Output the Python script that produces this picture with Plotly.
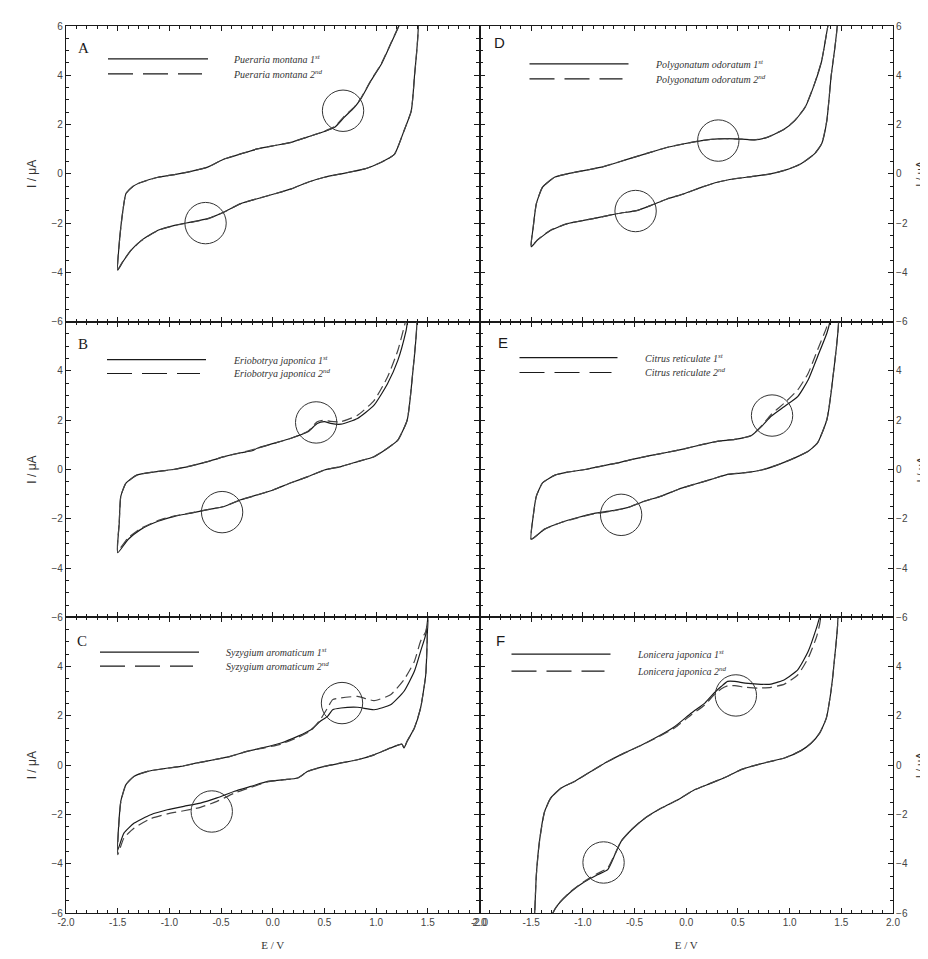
import plotly.graph_objects as go
from plotly.subplots import make_subplots

# ---------------- data ----------------
panel_letters = ["A", "D", "B", "E", "C", "F"]
species = ["Pueraria montana", "Polygonatum odoratum", "Eriobotrya japonica",
           "Citrus reticulate", "Syzygium aromaticum", "Lonicera japonica"]
cycle_labels = ["1<sup>st</sup>", "2<sup>nd</sup>"]

# Panel A
A_E_up = [-1.50, -1.48, -1.45, -1.42, -1.35, -1.27, -1.11, -0.95, -0.79, -0.63, -0.47, -0.31, -0.15, 0.02, 0.18, 0.34, 0.50, 0.60, 0.69, 0.79, 0.85, 0.95, 1.05, 1.14, 1.22, 1.26]
A_I_up1 = [-3.91, -2.60, -1.50, -0.80, -0.50, -0.34, -0.14, -0.03, 0.10, 0.27, 0.60, 0.81, 1.01, 1.15, 1.28, 1.50, 1.72, 1.89, 2.29, 2.70, 3.03, 3.78, 4.45, 5.26, 6.00, 6.50]
A_I_up2 = [-3.88, -2.58, -1.50, -0.80, -0.50, -0.34, -0.14, -0.03, 0.10, 0.27, 0.60, 0.81, 1.01, 1.15, 1.28, 1.50, 1.73, 1.92, 2.33, 2.72, 3.05, 3.80, 4.47, 5.28, 6.02, 6.50]
A_E_down = [1.40, 1.37, 1.34, 1.27, 1.21, 1.18, 1.15, 1.05, 0.89, 0.66, 0.50, 0.34, 0.18, 0.02, -0.15, -0.31, -0.47, -0.63, -0.79, -0.95, -1.11, -1.27, -1.37, -1.45, -1.50]
A_I_down1 = [6.50, 3.91, 2.56, 1.75, 1.08, 0.81, 0.70, 0.47, 0.20, 0.00, -0.14, -0.34, -0.61, -0.81, -1.01, -1.21, -1.55, -1.82, -1.96, -2.09, -2.29, -2.70, -3.10, -3.57, -3.91]
A_I_down2 = [6.50, 3.91, 2.56, 1.75, 1.08, 0.81, 0.70, 0.47, 0.20, 0.00, -0.14, -0.34, -0.61, -0.81, -1.01, -1.21, -1.55, -1.83, -1.97, -2.10, -2.30, -2.71, -3.10, -3.55, -3.88]

# Panel B
B_E_up = [-1.50, -1.485, -1.47, -1.42, -1.31, -1.11, -0.95, -0.79, -0.63, -0.47, -0.31, -0.20, -0.15, 0.01, 0.17, 0.34, 0.43, 0.50, 0.56, 0.66, 0.82, 0.98, 1.11, 1.21, 1.29, 1.32]
B_I_up1 = [-3.38, -2.17, -1.09, -0.55, -0.22, -0.08, 0.01, 0.15, 0.32, 0.52, 0.68, 0.76, 0.86, 1.06, 1.26, 1.53, 1.87, 1.94, 1.87, 1.84, 2.07, 2.61, 3.48, 4.43, 5.64, 6.30]
B_I_up2 = [-3.30, -2.15, -1.09, -0.55, -0.22, -0.08, 0.01, 0.15, 0.32, 0.52, 0.68, 0.80, 0.86, 1.06, 1.26, 1.55, 1.94, 2.00, 1.95, 1.94, 2.20, 2.80, 3.75, 4.83, 6.10, 6.60]
B_E_down = [1.39, 1.35, 1.30, 1.21, 1.11, 0.98, 0.82, 0.66, 0.50, 0.34, 0.17, 0.01, -0.15, -0.31, -0.47, -0.63, -0.79, -0.95, -1.11, -1.28, -1.40, -1.50]
B_I_down1 = [6.30, 3.75, 2.00, 1.19, 0.86, 0.52, 0.32, 0.12, -0.02, -0.29, -0.55, -0.82, -1.03, -1.23, -1.50, -1.63, -1.77, -1.90, -2.10, -2.44, -2.84, -3.38]
B_I_down2 = [6.30, 3.75, 2.00, 1.19, 0.86, 0.52, 0.32, 0.12, -0.02, -0.29, -0.55, -0.82, -1.03, -1.23, -1.50, -1.63, -1.76, -1.88, -2.07, -2.40, -2.78, -3.30]

# Panel C
C_E_up = [-1.50, -1.49, -1.47, -1.42, -1.34, -1.21, -1.05, -0.89, -0.73, -0.57, -0.41, -0.25, -0.08, 0.08, 0.24, 0.37, 0.46, 0.53, 0.58, 0.66, 0.82, 0.98, 1.14, 1.27, 1.37, 1.43, 1.48, 1.50]
C_I_up1 = [-3.45, -2.42, -1.47, -0.79, -0.45, -0.25, -0.14, -0.05, 0.09, 0.22, 0.36, 0.56, 0.72, 0.90, 1.17, 1.44, 1.78, 1.98, 2.25, 2.32, 2.35, 2.25, 2.45, 3.00, 3.81, 4.62, 5.30, 5.97]
C_I_up2 = [-3.63, -2.50, -1.50, -0.79, -0.45, -0.25, -0.14, -0.05, 0.09, 0.22, 0.36, 0.56, 0.70, 0.86, 1.12, 1.40, 1.85, 2.32, 2.66, 2.73, 2.79, 2.62, 2.86, 3.47, 4.21, 5.03, 5.43, 5.90]
C_E_down = [1.50, 1.48, 1.43, 1.37, 1.30, 1.27, 1.25, 1.14, 0.98, 0.82, 0.66, 0.50, 0.34, 0.24, 0.11, -0.05, -0.21, -0.37, -0.54, -0.70, -0.86, -1.02, -1.18, -1.34, -1.44, -1.50]
C_I_down1 = [5.97, 3.67, 2.32, 1.51, 0.97, 0.70, 0.85, 0.70, 0.42, 0.22, 0.09, -0.05, -0.25, -0.52, -0.59, -0.66, -0.86, -1.06, -1.33, -1.54, -1.67, -1.81, -2.01, -2.35, -2.76, -3.45]
C_I_down2 = [5.90, 3.67, 2.32, 1.51, 0.97, 0.70, 0.85, 0.70, 0.42, 0.22, 0.09, -0.05, -0.25, -0.52, -0.59, -0.68, -0.90, -1.13, -1.47, -1.71, -1.85, -1.98, -2.17, -2.55, -2.96, -3.63]

# Panel D
D_E_up = [-1.50, -1.48, -1.45, -1.39, -1.27, -1.15, -0.98, -0.82, -0.66, -0.50, -0.34, -0.18, -0.02, 0.15, 0.31, 0.47, 0.66, 0.79, 0.95, 1.05, 1.15, 1.24, 1.31, 1.37, 1.39]
D_I_up1 = [-2.96, -2.15, -1.21, -0.54, -0.13, 0.00, 0.14, 0.27, 0.47, 0.68, 0.88, 1.08, 1.22, 1.35, 1.42, 1.42, 1.38, 1.49, 1.82, 2.16, 2.70, 3.64, 4.58, 6.00, 6.40]
D_I_up2 = [-2.94, -2.14, -1.21, -0.54, -0.13, 0.00, 0.14, 0.27, 0.47, 0.68, 0.88, 1.08, 1.22, 1.35, 1.42, 1.42, 1.38, 1.49, 1.82, 2.17, 2.71, 3.65, 4.60, 6.00, 6.40]
D_E_down = [1.46, 1.40, 1.36, 1.31, 1.24, 1.11, 0.95, 0.79, 0.63, 0.47, 0.31, 0.15, -0.02, -0.18, -0.34, -0.47, -0.66, -0.82, -0.98, -1.15, -1.31, -1.44, -1.50]
D_I_down1 = [6.40, 3.91, 2.16, 1.22, 0.81, 0.41, 0.14, -0.02, -0.11, -0.20, -0.33, -0.54, -0.81, -1.01, -1.28, -1.48, -1.61, -1.75, -1.88, -2.02, -2.29, -2.69, -2.96]
D_I_down2 = [6.40, 3.91, 2.16, 1.22, 0.81, 0.41, 0.14, -0.02, -0.11, -0.20, -0.33, -0.54, -0.81, -1.01, -1.28, -1.48, -1.61, -1.75, -1.88, -2.02, -2.28, -2.68, -2.94]

# Panel E
E_E_up = [-1.50, -1.48, -1.45, -1.39, -1.27, -1.15, -0.98, -0.82, -0.66, -0.50, -0.34, -0.18, -0.02, 0.15, 0.31, 0.47, 0.63, 0.73, 0.82, 0.95, 1.08, 1.18, 1.27, 1.36, 1.39, 1.40]
E_I_up1 = [-2.83, -1.88, -1.08, -0.54, -0.23, -0.11, 0.00, 0.14, 0.27, 0.43, 0.57, 0.70, 0.84, 1.01, 1.15, 1.22, 1.38, 1.75, 2.16, 2.56, 2.97, 3.64, 4.58, 5.53, 6.00, 6.30]
E_I_up2 = [-2.83, -1.88, -1.08, -0.54, -0.23, -0.11, 0.00, 0.14, 0.27, 0.43, 0.57, 0.70, 0.84, 1.01, 1.15, 1.22, 1.38, 1.78, 2.23, 2.70, 3.24, 3.91, 4.85, 5.80, 6.30, 6.50]
E_E_down = [1.47, 1.42, 1.36, 1.27, 1.18, 1.05, 0.89, 0.73, 0.57, 0.40, 0.24, 0.08, -0.08, -0.24, -0.40, -0.57, -0.73, -0.89, -1.05, -1.21, -1.37, -1.50]
E_I_down1 = [6.30, 3.78, 2.02, 1.08, 0.74, 0.47, 0.20, -0.02, -0.13, -0.20, -0.40, -0.60, -0.81, -1.08, -1.28, -1.55, -1.68, -1.78, -1.95, -2.15, -2.42, -2.83]
E_I_down2 = [6.30, 3.78, 2.02, 1.08, 0.74, 0.47, 0.20, -0.02, -0.13, -0.20, -0.40, -0.60, -0.81, -1.08, -1.28, -1.55, -1.70, -1.80, -1.96, -2.15, -2.42, -2.83]

# Panel F
F_E_up = [-1.47, -1.45, -1.42, -1.37, -1.31, -1.21, -1.08, -0.92, -0.76, -0.60, -0.44, -0.27, -0.11, 0.05, 0.18, 0.27, 0.34, 0.40, 0.47, 0.57, 0.69, 0.82, 0.95, 1.08, 1.18, 1.26, 1.29, 1.31]
F_I_up1 = [-6.50, -4.45, -3.09, -1.88, -1.33, -0.93, -0.66, -0.25, 0.15, 0.49, 0.80, 1.17, 1.57, 2.12, 2.52, 2.93, 3.20, 3.40, 3.40, 3.33, 3.29, 3.29, 3.47, 3.88, 4.62, 5.57, 6.00, 6.30]
F_I_up2 = [-6.50, -4.45, -3.09, -1.88, -1.33, -0.93, -0.66, -0.25, 0.15, 0.49, 0.80, 1.15, 1.52, 2.05, 2.45, 2.86, 3.10, 3.22, 3.23, 3.16, 3.13, 3.16, 3.29, 3.67, 4.35, 5.20, 5.70, 6.10]
F_E_down = [1.46, 1.435, 1.40, 1.355, 1.29, 1.21, 1.11, 0.95, 0.79, 0.63, 0.53, 0.40, 0.24, 0.08, -0.08, -0.24, -0.40, -0.53, -0.63, -0.69, -0.76, -0.86, -0.98, -1.11, -1.24, -1.29, -1.31]
F_I_down1 = [6.30, 4.35, 3.00, 1.91, 1.30, 0.90, 0.59, 0.29, 0.13, -0.05, -0.18, -0.45, -0.73, -1.00, -1.40, -1.74, -2.15, -2.62, -3.09, -3.63, -4.24, -4.45, -4.72, -5.12, -5.66, -6.00, -6.30]
F_I_down2 = [6.30, 4.35, 3.00, 1.91, 1.30, 0.90, 0.59, 0.29, 0.13, -0.05, -0.18, -0.45, -0.73, -1.00, -1.40, -1.74, -2.15, -2.62, -3.09, -3.60, -4.18, -4.40, -4.70, -5.10, -5.64, -6.00, -6.30]

# highlighted regions (circle centres, E / V and I / uA), per panel in order A, D, B, E, C, F
circle_E = [[0.68, -0.65], [0.31, -0.49], [0.42, -0.49], [0.83, -0.63], [0.67, -0.59], [0.48, -0.80]]
circle_I = [[2.56, -2.00], [1.35, -1.51], [1.91, -1.73], [2.19, -1.84], [2.52, -1.88], [2.83, -3.95]]

x_ticks = [-2.0, -1.5, -1.0, -0.5, 0.0, 0.5, 1.0, 1.5, 2.0]
y_ticks_top = [-6, -4, -2, 0, 2, 4, 6]
y_ticks_low = [-6, -4, -2, 0, 2, 4]

panels = [
    (A_E_up, A_I_up1, A_I_up2, A_E_down, A_I_down1, A_I_down2),
    (D_E_up, D_I_up1, D_I_up2, D_E_down, D_I_down1, D_I_down2),
    (B_E_up, B_I_up1, B_I_up2, B_E_down, B_I_down1, B_I_down2),
    (E_E_up, E_I_up1, E_I_up2, E_E_down, E_I_down1, E_I_down2),
    (C_E_up, C_I_up1, C_I_up2, C_E_down, C_I_down1, C_I_down2),
    (F_E_up, F_I_up1, F_I_up2, F_E_down, F_I_down1, F_I_down2),
]

# ---------------- figure ----------------
W, H = 928, 959
ML, MR, MT, MB = 58, 43, 15, 54
fig = make_subplots(rows=3, cols=2, horizontal_spacing=0, vertical_spacing=0)

SANS = "Liberation Sans, Arial, sans-serif"
SERIF = "Liberation Serif, Times New Roman, serif"
INK = "#1a1a1a"

pw = (W - ML - MR) / 2.0
ph = (H - MT - MB) / 3.0

# legend/letter offsets in px relative to each panel's top-left corner (layout only)
leg_geo = [
    dict(lx0=42, lx1=142, ly1=33, ly2=48, tx=165, ax=17, ay=22, lf=SERIF),
    dict(lx0=50, lx1=149, ly1=38, ly2=53, tx=173, ax=20, ay=17, lf=SANS),
    dict(lx0=41, lx1=140, ly1=38, ly2=52, tx=165, ax=17, ay=22, lf=SERIF),
    dict(lx0=40, lx1=138, ly1=36, ly2=51, tx=163, ax=23, ay=21, lf=SANS),
    dict(lx0=34, lx1=133, ly1=35, ly2=49, tx=158, ax=16, ay=24, lf=SERIF),
    dict(lx0=32, lx1=131, ly1=37, ly2=54, tx=155, ax=21, ay=23, lf=SANS),
]

for k, (Eu, Iu1, Iu2, Ed, Id1, Id2) in enumerate(panels):
    row, col = k // 2 + 1, k % 2 + 1
    fig.add_trace(go.Scatter(x=Eu + Ed, y=Iu1 + Id1, mode="lines",
                             line=dict(color=INK, width=1.2, shape="spline", smoothing=0.5),
                             name=f"{species[k]} 1st", showlegend=False), row=row, col=col)
    fig.add_trace(go.Scatter(x=Eu + Ed, y=Iu2 + Id2, mode="lines",
                             line=dict(color="#444444", width=1.2, dash="10px,5px", shape="spline", smoothing=0.5),
                             name=f"{species[k]} 2nd", showlegend=False), row=row, col=col)

    idx = "" if k == 0 else str(k + 1)
    xr, yr = "x" + idx, "y" + idx
    # circles
    for cx, cy in zip(circle_E[k], circle_I[k]):
        fig.add_shape(type="circle", xref=xr, yref=yr, x0=cx - 0.2, x1=cx + 0.2,
                      y0=cy - 0.84, y1=cy + 0.84, line=dict(color="#333333", width=1))
    # manual legend
    g = leg_geo[k]
    def fx(px):
        return px / pw
    def fy(py):
        return 1 - py / ph
    fig.add_shape(type="line", xref=xr + " domain", yref=yr + " domain",
                  x0=fx(g["lx0"]), x1=fx(g["lx1"]), y0=fy(g["ly1"]), y1=fy(g["ly1"]),
                  line=dict(color=INK, width=1.2))
    fig.add_shape(type="line", xref=xr + " domain", yref=yr + " domain",
                  x0=fx(g["lx0"]), x1=fx(g["lx1"] - 6), y0=fy(g["ly2"]), y1=fy(g["ly2"]),
                  line=dict(color=INK, width=1.2, dash="25px,10px"))
    for yy, lab in zip([g["ly1"], g["ly2"]], cycle_labels):
        fig.add_annotation(xref=xr + " domain", yref=yr + " domain", x=fx(g["tx"]), y=fy(yy),
                           text=f"<i>{species[k]} {lab}</i>", showarrow=False,
                           xanchor="left", yanchor="middle",
                           font=dict(family=SERIF, size=10, color="#333333"))
    fig.add_annotation(xref=xr + " domain", yref=yr + " domain", x=fx(g["ax"]), y=fy(g["ay"]),
                       text=panel_letters[k], showarrow=False, xanchor="center", yanchor="middle",
                       font=dict(family=g["lf"], size=15, color=INK))

    # axes
    fig.update_xaxes(row=row, col=col, range=[-2, 2], tickvals=x_ticks,
                     ticktext=[f"{v:.1f}" for v in x_ticks],
                     showticklabels=(row == 3), ticks="inside", ticklen=5, tickwidth=1,
                     tickcolor=INK, showline=True, linecolor=INK, linewidth=1.2,
                     mirror="allticks", showgrid=False, zeroline=False,
                     minor=dict(dtick=0.1, ticks="inside", ticklen=3, tickcolor=INK, showgrid=False),
                     tickfont=dict(family=SANS, size=10, color="#444444"))
    if row == 3:
        fig.update_xaxes(row=row, col=col, title=dict(text="E / V", standoff=14,
                         font=dict(family=SERIF, size=11, color="#333333")))
    fig.update_yaxes(row=row, col=col, range=[-6, 6],
                     tickvals=(y_ticks_top if row == 1 else y_ticks_low),
                     side=("left" if col == 1 else "right"),
                     ticks="inside", ticklen=5, tickwidth=1, tickcolor=INK,
                     showline=True, linecolor=INK, linewidth=1.2, mirror="allticks",
                     showgrid=False, zeroline=False,
                     minor=dict(dtick=0.5, ticks="inside", ticklen=3, tickcolor=INK, showgrid=False),
                     tickfont=dict(family=SANS, size=10, color="#444444"))
    if col == 1:
        fig.update_yaxes(row=row, col=col, title=dict(text="I / μA", standoff=12,
                         font=dict(family=SANS, size=12, color="#333333")))
    else:
        fig.add_annotation(xref="paper", yref=yr + " domain", x=1, y=0.5, xshift=27,
                           text="I / μA", textangle=-90, showarrow=False,
                           xanchor="center", yanchor="middle",
                           font=dict(family=SANS, size=11, color="#333333"))

fig.update_layout(width=W, height=H, margin=dict(l=ML, r=MR, t=MT, b=MB),
                  paper_bgcolor="white", plot_bgcolor="white", showlegend=False)

fig.write_html("out.html")
